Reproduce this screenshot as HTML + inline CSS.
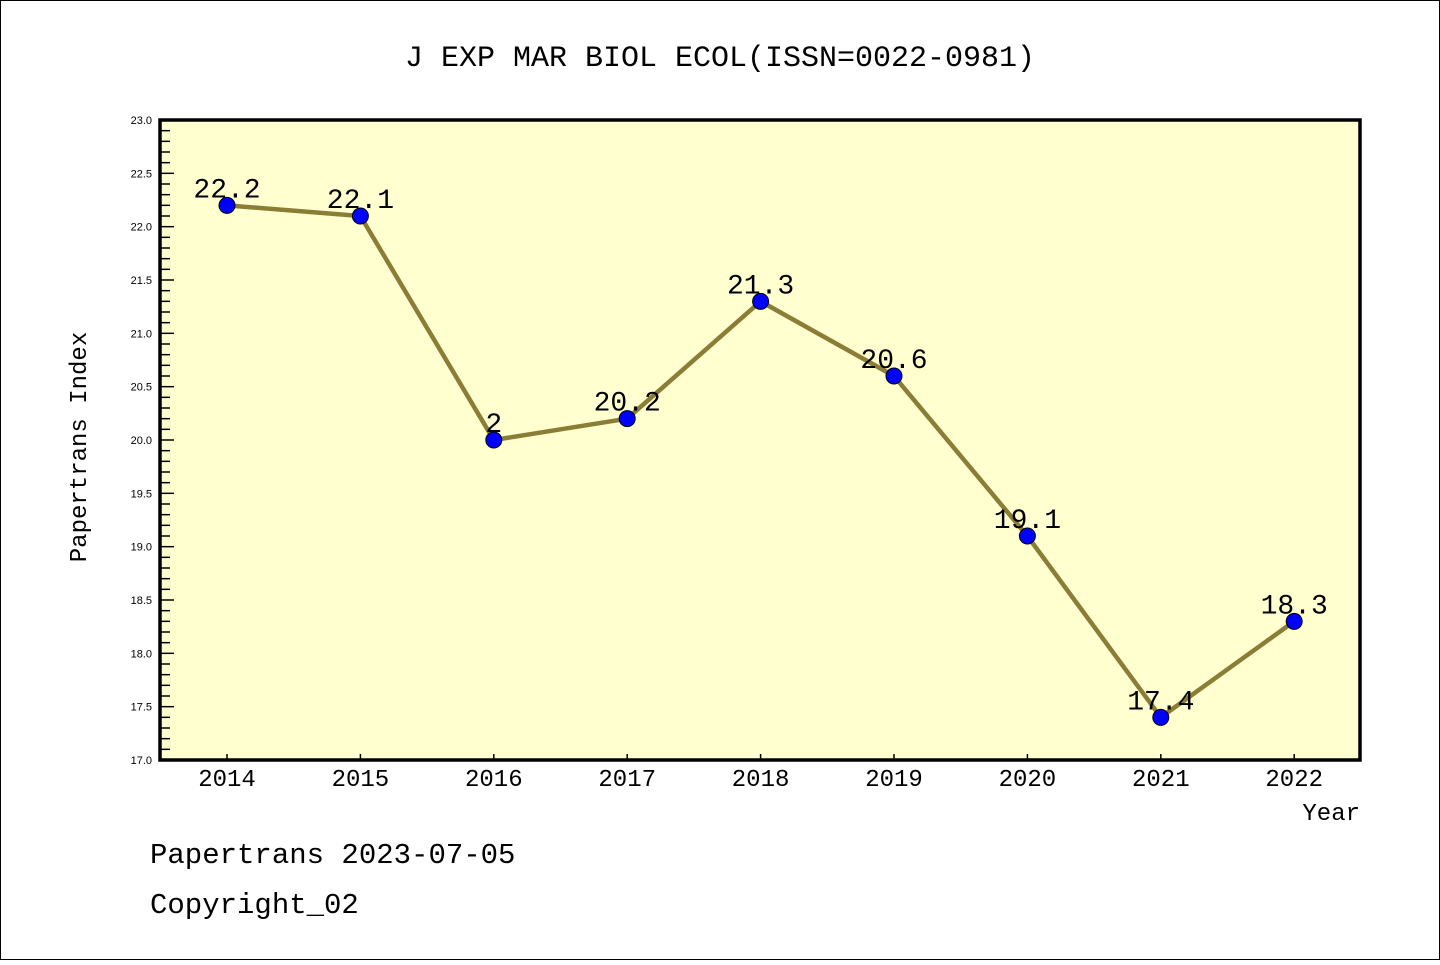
<!DOCTYPE html>
<html><head><meta charset="utf-8"><style>
body{margin:0;background:#fff}
svg text{font-family:"WenQuanYi Zen Hei Mono","Liberation Mono","DejaVu Sans Mono",monospace}
svg text.sans{font-family:"Liberation Sans",sans-serif}
</style></head><body>
<svg width="1440" height="960" xmlns="http://www.w3.org/2000/svg">
<rect x="0.5" y="0.5" width="1439" height="959" fill="#fff" stroke="#000"/>
<text x="720" y="66" font-size="30" text-anchor="middle">J EXP MAR BIOL ECOL(ISSN=0022-0981)</text>
<rect x="160" y="120" width="1200" height="640" fill="#ffffd0"/>
<g id="axes"></g>
<g id="marks"></g>
<rect x="160" y="120" width="1200" height="640" fill="none" stroke="#000" stroke-width="3.5"/>
<text x="86" y="447" font-size="24" text-anchor="middle" transform="rotate(-90 86 447)">Papertrans Index</text>
<text x="1360" y="820" font-size="24" text-anchor="end">Year</text>
<text x="150" y="863" font-size="29">Papertrans 2023-07-05</text>
<text x="150" y="913" font-size="29">Copyright_02</text>
</svg>
<script>
const years=["2014","2015","2016","2017","2018","2019","2020","2021","2022"];
const values=[22.2,22.1,20.0,20.2,21.3,20.6,19.1,17.4,18.3];
const valueLabels=["22.2","22.1","2","20.2","21.3","20.6","19.1","17.4","18.3"];
const yTicks=["17.0","17.5","18.0","18.5","19.0","19.5","20.0","20.5","21.0","21.5","22.0","22.5","23.0"];
const NS="http://www.w3.org/2000/svg";
const yMin=17,yMax=23,plotTop=120,plotBot=760,plotLeft=160;
const xs=i=>227+i*133.4;
const ys=v=>plotBot-(v-yMin)/(yMax-yMin)*(plotBot-plotTop);
function mk(tag,attrs,parent){const e=document.createElementNS(NS,tag);for(const k in attrs)e.setAttribute(k,attrs[k]);parent.appendChild(e);return e;}
const axes=document.getElementById('axes'),marks=document.getElementById('marks');
for(let k=0;k<=60;k++){const v=yMin+k*0.1;const major=k%5===0;
 const l=mk('line',{x1:plotLeft,x2:plotLeft+(major?14:10),y1:ys(v),y2:ys(v),stroke:'#000','stroke-width':1.5},axes);
 
 }
yTicks.forEach(t=>{const e=mk('text',{x:152,y:ys(parseFloat(t))+4,'font-size':11,'text-anchor':'end',class:'sans'},axes);e.textContent=t;
 
 });
years.forEach((t,i)=>{const l=mk('line',{x1:xs(i),x2:xs(i),y1:plotBot,y2:plotBot-6,stroke:'#000','stroke-width':1.5},axes);
 
 
 const e=mk('text',{x:xs(i),y:plotBot+26,'font-size':24,'text-anchor':'middle'},axes);e.textContent=t;
 
 });
const pl=mk('polyline',{points:values.map((v,i)=>xs(i)+','+ys(v)).join(' '),fill:'none',stroke:'#8b7d35','stroke-width':4.5},marks);


values.forEach((v,i)=>{const c=mk('circle',{cx:xs(i),cy:ys(v),r:8,fill:'#0000ff',stroke:'#000','stroke-width':1},marks);
 
 
 const e=mk('text',{x:xs(i),y:ys(v)-8,'font-size':28,'text-anchor':'middle'},marks);e.textContent=valueLabels[i];
 
 });
</script>
</body></html>
